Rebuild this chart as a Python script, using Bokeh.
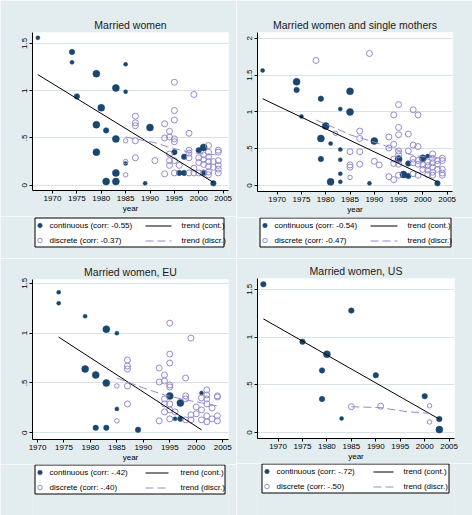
from bokeh.plotting import figure
from bokeh.models import Range1d, FixedTicker, CustomJSTickFormatter, ColumnDataSource
from bokeh.core.properties import value
from bokeh.layouts import column, row
from bokeh.embed import file_html
from bokeh.resources import INLINE

BG = "#E3ECEE"
NAVY = "#1A476F"
LAV = "#958BCE"
GRID = "#D6E2E6"
FONT = "Liberation Sans"
DASH = "8 4"

x_ticks = [1970, 1975, 1980, 1985, 1990, 1995, 2000, 2005]
trend_cont_label = "trend (cont.)"
trend_disc_label = "trend (discr.)"

# ---------------- Panel 1: Married women ----------------
p1_title = "Married women"
p1_yticks = [0, 0.5, 1, 1.5]
p1_cont_label = "continuous (corr: -0.55)"
p1_disc_label = "discrete (corr: -0.37)"
p1_cont_year = [1967, 1974, 1974, 1975, 1979, 1983, 1985, 1985, 1980, 1979, 1981, 1983, 1979, 1985,
                1983, 1981, 1983, 1990, 1989, 1995, 1997, 1996, 1997, 2000, 2001, 2001, 2003]
p1_cont_value = [1.56, 1.41, 1.30, 0.94, 1.18, 1.03, 1.28, 0.99, 0.82, 0.64, 0.58, 0.49, 0.35, 0.23,
                 0.13, 0.04, 0.04, 0.61, 0.02, 0.35, 0.30, 0.13, 0.13, 0.37, 0.40, 0.13, 0.02]
p1_cont_weight = [1, 2, 1, 2, 3, 3, 1, 1, 3, 3, 2, 3, 3, 1,
                  3, 3, 3, 3, 1, 2, 2, 2, 2, 2, 3, 2, 2]
p1_disc_year = [1985, 1985, 1985, 1987, 1987, 1987, 1987, 1987, 1991, 1993, 1993, 1993,
                1994, 1994, 1994, 1994, 1994, 1995, 1995, 1995, 1995, 1995, 1995, 1995, 1996,
                1998, 1998, 1998, 1998, 1998, 1999, 1999, 1999, 2000, 2000, 2000,
                2001, 2001, 2001, 2001, 2002, 2002, 2002, 2002, 2002, 2002, 2002,
                2003, 2003, 2004, 2004, 2004, 2004, 2004, 2004]
p1_disc_value = [0.47, 0.25, 0.11, 0.73, 0.66, 0.63, 0.47, 0.29, 0.26, 0.65, 0.50, 0.12,
                 0.57, 0.51, 0.33, 0.26, 0.21, 1.09, 0.79, 0.69, 0.49, 0.46, 0.26, 0.13, 0.21,
                 0.55, 0.37, 0.34, 0.29, 0.13, 0.96, 0.18, 0.13, 0.29, 0.24, 0.13,
                 0.32, 0.27, 0.22, 0.13, 0.42, 0.35, 0.30, 0.25, 0.20, 0.14, 0.11,
                 0.25, 0.19, 0.37, 0.35, 0.26, 0.21, 0.17, 0.13]
p1_disc_weight = [1, 1, 1, 2, 2, 2, 2, 2, 2, 2, 2, 2,
                  2, 2, 2, 2, 2, 2, 2, 2, 2, 2, 2, 2, 2,
                  2, 2, 2, 2, 2, 2, 2, 2, 2, 2, 2,
                  2, 2, 2, 2, 2, 2, 2, 2, 2, 2, 2,
                  2, 2, 2, 2, 2, 2, 2, 2]
p1_tc_year = [1967, 2003]
p1_tc_value = [1.17, 0.03]
p1_td_year = [1985, 1991, 1994, 1998, 2001, 2004]
p1_td_value = [0.51, 0.45, 0.40, 0.35, 0.33, 0.32]

# ---------------- Panel 2: Married women and single mothers ----------------
p2_title = "Married women and single mothers"
p2_yticks = [0, 0.5, 1, 1.5, 2]
p2_cont_label = "continuous (corr: -0.54)"
p2_disc_label = "discrete (corr: -0.47)"
p2_cont_year = [1967, 1974, 1974, 1975, 1979, 1980, 1979, 1981, 1979, 1981, 1983, 1983, 1983,
                1983, 1983, 1985, 1985, 1990, 1989, 1995, 1997, 1996, 1997, 2000, 2001, 2003]
p2_cont_value = [1.565, 1.41, 1.30, 0.94, 1.18, 0.81, 0.64, 0.57, 0.36, 0.05, 1.04, 0.49, 0.35,
                 0.16, 0.05, 1.28, 1.00, 0.605, 0.03, 0.36, 0.30, 0.15, 0.13, 0.37, 0.40, 0.03]
p2_cont_weight = [1, 3, 2, 1, 2, 3, 3, 1, 2, 3, 1, 1, 1,
                  1, 1, 3, 3, 3, 1, 3, 2, 3, 2, 3, 1, 2]
p2_disc_year = [1978, 1982, 1985, 1985, 1985, 1985, 1987, 1987, 1987, 1987, 1989, 1990, 1991,
                1993, 1993, 1993, 1994, 1994, 1994, 1994, 1994,
                1995, 1995, 1995, 1995, 1995, 1995, 1995, 1997, 1997,
                1998, 1998, 1998, 1998, 1998, 1999, 1999, 1999, 1999, 1999,
                2000, 2000, 2001, 2001, 2001, 2001, 2002, 2002, 2002, 2002, 2002, 2002,
                2003, 2003, 2003, 2004, 2004, 2004, 2004, 2004]
p2_disc_value = [1.70, 0.71, 0.46, 0.28, 0.25, 0.11, 0.74, 0.64, 0.46, 0.29, 1.795, 0.33, 0.28,
                 0.66, 0.51, 0.12, 0.96, 0.56, 0.36, 0.30, 0.08,
                 1.10, 0.79, 0.69, 0.47, 0.42, 0.29, 0.14, 0.70, 0.47,
                 1.03, 0.55, 0.36, 0.31, 0.16, 0.96, 0.53, 0.34, 0.29, 0.14,
                 0.28, 0.22, 0.32, 0.27, 0.21, 0.15, 0.43, 0.37, 0.31, 0.25, 0.18, 0.14,
                 0.34, 0.29, 0.22, 0.37, 0.34, 0.22, 0.17, 0.14]
p2_disc_weight = [2, 1, 2, 2, 2, 1, 2, 2, 2, 2, 2, 2, 2,
                  2, 2, 2, 2, 2, 2, 2, 2,
                  2, 2, 2, 2, 2, 2, 2, 2, 2,
                  2, 2, 2, 2, 2, 2, 2, 2, 2, 2,
                  2, 2, 2, 2, 2, 2, 2, 2, 2, 2, 2, 2,
                  2, 2, 2, 2, 2, 2, 2, 2]
p2_tc_year = [1967, 2003]
p2_tc_value = [1.18, 0.05]
p2_td_year = [1978, 1982, 1985, 1990, 1994, 1998, 2004]
p2_td_value = [0.89, 0.78, 0.69, 0.59, 0.50, 0.41, 0.36]

# ---------------- Panel 3: Married women, EU ----------------
p3_title = "Married women, EU"
p3_yticks = [0, 0.5, 1, 1.5]
p3_cont_label = "continuous (corr: -.42)"
p3_disc_label = "discrete (corr: -.40)"
p3_cont_year = [1974, 1974, 1979, 1983, 1985, 1979, 1981, 1983, 1985, 1981, 1983, 1989,
                1995, 1997, 1996, 1997, 2001]
p3_cont_value = [1.41, 1.30, 1.17, 1.04, 1.00, 0.64, 0.58, 0.50, 0.24, 0.05, 0.05, 0.03,
                 0.37, 0.30, 0.14, 0.14, 0.40]
p3_cont_weight = [1, 1, 1, 3, 1, 3, 3, 3, 1, 2, 2, 2,
                  3, 3, 1, 2, 1]
p3_disc_year = [1985, 1985, 1987, 1987, 1987, 1987, 1987, 1993, 1993, 1993,
                1994, 1994, 1994, 1994, 1994, 1995, 1995, 1995, 1995, 1995, 1995, 1995, 1995,
                1996, 1998, 1998, 1998, 1998, 1999, 1999, 1999, 2000, 2000,
                2001, 2001, 2001, 2002, 2002, 2002, 2002, 2002, 2002,
                2003, 2003, 2004, 2004, 2004, 2004]
p3_disc_value = [0.47, 0.12, 0.73, 0.67, 0.64, 0.47, 0.29, 0.65, 0.51, 0.12,
                 0.58, 0.52, 0.34, 0.29, 0.21, 1.10, 0.79, 0.70, 0.48, 0.46, 0.29, 0.23, 0.14,
                 0.21, 0.55, 0.37, 0.34, 0.13, 0.95, 0.18, 0.13, 0.26, 0.19,
                 0.35, 0.23, 0.13, 0.43, 0.38, 0.34, 0.29, 0.17, 0.11,
                 0.25, 0.14, 0.37, 0.36, 0.17, 0.12]
p3_disc_weight = [1, 1, 2, 2, 2, 2, 2, 2, 2, 2,
                  2, 2, 2, 2, 2, 2, 2, 2, 2, 2, 2, 2, 2,
                  2, 2, 2, 2, 2, 2, 2, 2, 2, 2,
                  2, 2, 2, 2, 2, 2, 2, 2, 2,
                  2, 2, 2, 2, 2, 2]
p3_tc_year = [1974, 2001]
p3_tc_value = [0.96, 0.03]
p3_td_year = [1985, 1990, 1994, 1998, 2001, 2004]
p3_td_value = [0.55, 0.45, 0.38, 0.33, 0.30, 0.27]

# ---------------- Panel 4: Married women, US ----------------
p4_title = "Married women, US"
p4_yticks = [0, 0.5, 1, 1.5]
p4_cont_label = "continuous (corr: -.72)"
p4_disc_label = "discrete (corr: -.50)"
p4_cont_year = [1967, 1975, 1980, 1979, 1979, 1983, 1985, 1990, 2000, 2003, 2003]
p4_cont_value = [1.553, 0.95, 0.82, 0.65, 0.35, 0.147, 1.277, 0.60, 0.38, 0.14, 0.03]
p4_cont_weight = [2, 2, 3, 2, 2, 1, 2, 2, 2, 2, 3]
p4_disc_year = [1985, 1991, 2001, 2001]
p4_disc_value = [0.27, 0.276, 0.28, 0.11]
p4_disc_weight = [2, 2, 1, 1]
p4_tc_year = [1967, 2003]
p4_tc_value = [1.19, 0.14]
p4_td_year = [1985, 1991, 1996, 2001]
p4_td_value = [0.27, 0.26, 0.22, 0.20]

CONT_SIZE = {1: 4.0, 2: 5.5, 3: 7.0}
DISC_SIZE = {1: 4.5, 2: 6.0}


def make_plot(title, xr, yr, yticks, cy, cv, cw, dy, dv, dw, tcy, tcv, tdy, tdv, main_h, borders):
    left, right, top, bottom = borders
    p = figure(width=236, height=main_h, output_backend="svg", toolbar_location=None,
               x_range=Range1d(*xr), y_range=Range1d(*yr),
               min_border_left=left, min_border_right=right,
               min_border_top=top, min_border_bottom=bottom,
               background_fill_color="white", border_fill_color=BG,
               outline_line_color=None)
    p.title.text = title
    p.title.align = "center"
    p.title.text_font = FONT
    p.title.text_font_size = "10.5px"
    p.title.text_font_style = "normal"
    p.title.text_color = "#1A1A1A"
    p.title.standoff = 4

    for ax in (p.xaxis[0], p.yaxis[0]):
        ax.axis_line_color = "black"
        ax.axis_line_width = 1
        ax.major_tick_line_color = "black"
        ax.major_tick_in = 0
        ax.major_tick_out = 3
        ax.minor_tick_line_color = None
        ax.major_label_text_font = FONT
        ax.major_label_text_font_size = "8px"
        ax.major_label_text_color = "black"
        ax.major_label_standoff = 2
    p.xaxis.ticker = FixedTicker(ticks=x_ticks)
    p.yaxis.ticker = FixedTicker(ticks=yticks)
    p.yaxis.major_label_orientation = "vertical"
    p.yaxis.formatter = CustomJSTickFormatter(code="return tick.toString().replace(/^0\\./, '.');")
    p.xaxis.axis_label = "year"
    p.xaxis.axis_label_text_font = FONT
    p.xaxis.axis_label_text_font_size = "8px"
    p.xaxis.axis_label_text_font_style = "normal"
    p.xaxis.axis_label_text_color = "black"
    p.xaxis.axis_label_standoff = 0
    p.xgrid.grid_line_color = None
    p.ygrid.grid_line_color = GRID
    p.ygrid.grid_line_width = 1

    csrc = ColumnDataSource(dict(x=cy, y=cv, s=[CONT_SIZE[w] for w in cw]))
    dsrc = ColumnDataSource(dict(x=dy, y=dv, s=[DISC_SIZE[w] for w in dw]))
    p.scatter("x", "y", size="s", source=csrc, marker="circle",
              fill_color=NAVY, line_color=NAVY, line_width=0.5)
    p.scatter("x", "y", size="s", source=dsrc, marker="circle",
              fill_color=None, line_color=LAV, line_width=1)
    p.line(tcy, tcv, line_color="black", line_width=1)
    p.line(tdy, tdv, line_color=LAV, line_width=1, line_dash=DASH)
    return p


def make_legend(clabel, dlabel, leg_h, borders, box_left, box_top, box_w, line_x0, line_x1, text2_x):
    """Stata-style legend box: two columns, two rows, drawn in a pixel-space strip.
    Its frame has the same side borders as the plot above, so that the column layout
    keeps both frames aligned; x data units equal pixels of the panel."""
    left, right = borders[0], borders[1]
    lf = figure(width=236, height=leg_h, title=None, output_backend="svg", toolbar_location=None,
                x_range=Range1d(left, 236 - right), y_range=Range1d(leg_h, 0),
                x_axis_type=None, y_axis_type=None,
                min_border_left=left, min_border_right=right, min_border_top=0, min_border_bottom=0,
                background_fill_color=BG, border_fill_color=BG, outline_line_color=None)
    box_bottom = box_top + 30
    r1 = box_top + 8
    r2 = box_top + 23
    lf.quad(left=[box_left + 0.5], right=[box_left + box_w - 0.5],
            top=[box_top + 0.5], bottom=[box_bottom - 0.5],
            fill_color="white", line_color="black", line_width=1)
    lf.scatter([box_left + 5.5], [r1], size=4.5, marker="circle",
               fill_color=NAVY, line_color=NAVY, line_width=0.5)
    lf.scatter([box_left + 5.5], [r2], size=4.5, marker="circle",
               fill_color=None, line_color=LAV, line_width=1)
    lf.line([box_left + line_x0, box_left + line_x1], [r1 + 0.5, r1 + 0.5],
            line_color="black", line_width=1)
    lf.line([box_left + line_x0, box_left + line_x1], [r2 + 0.5, r2 + 0.5],
            line_color=LAV, line_width=1, line_dash=DASH)
    tx = box_left + 15
    t2 = box_left + text2_x
    lsrc = ColumnDataSource(dict(x=[tx, tx, t2, t2], y=[r1, r2, r1, r2],
                                 t=[clabel, dlabel, trend_cont_label, trend_disc_label]))
    lf.text("x", "y", text="t", source=lsrc, text_font=value(FONT), text_font_size="8px",
            text_color="black", text_baseline="middle", text_align="left")
    return lf


def make_panel(title, xr, yr, yticks, cy, cv, cw, dy, dv, dw, tcy, tcv, tdy, tdv,
               clabel, dlabel, main_h, leg_h, borders, leg):
    p = make_plot(title, xr, yr, yticks, cy, cv, cw, dy, dv, dw, tcy, tcv, tdy, tdv, main_h, borders)
    lf = make_legend(clabel, dlabel, leg_h, borders, *leg)
    return column(p, lf)


c1 = make_panel(p1_title, (1965.9, 2006.1), (-0.056, 1.616), p1_yticks,
                p1_cont_year, p1_cont_value, p1_cont_weight,
                p1_disc_year, p1_disc_value, p1_disc_weight,
                p1_tc_year, p1_tc_value, p1_td_year, p1_td_value,
                p1_cont_label, p1_disc_label, 216, 42, (32, 8, 32, 26),
                (34, 1, 190, 111, 137, 147))
c2 = make_panel(p2_title, (1965.95, 2006.1), (-0.081, 2.08), p2_yticks,
                p2_cont_year, p2_cont_value, p2_cont_weight,
                p2_disc_year, p2_disc_value, p2_disc_weight,
                p2_tc_year, p2_tc_value, p2_td_year, p2_td_value,
                p2_cont_label, p2_disc_label, 217, 41, (21, 20, 32, 26),
                (23, 0, 192, 111, 138, 148))
c3 = make_panel(p3_title, (1969.05, 2006.1), (-0.067, 1.538), p3_yticks,
                p3_cont_year, p3_cont_value, p3_cont_weight,
                p3_disc_year, p3_disc_value, p3_disc_weight,
                p3_tc_year, p3_tc_value, p3_td_year, p3_td_value,
                p3_cont_label, p3_disc_label, 206, 51, (32, 8, 21, 25),
                (34, 0, 191, 111, 134, 146))
c4 = make_panel(p4_title, (1965.8, 2006.1), (-0.063, 1.613), p4_yticks,
                p4_cont_year, p4_cont_value, p4_cont_weight,
                p4_disc_year, p4_disc_value, p4_disc_weight,
                p4_tc_year, p4_tc_value, p4_td_year, p4_td_value,
                p4_cont_label, p4_disc_label, 205, 52, (21, 18, 20, 25),
                (25, 0, 188, 112, 132, 142))

layout = column(row(c1, c2), row(c3, c4))
open("out.html", "w").write(file_html(layout, INLINE))
